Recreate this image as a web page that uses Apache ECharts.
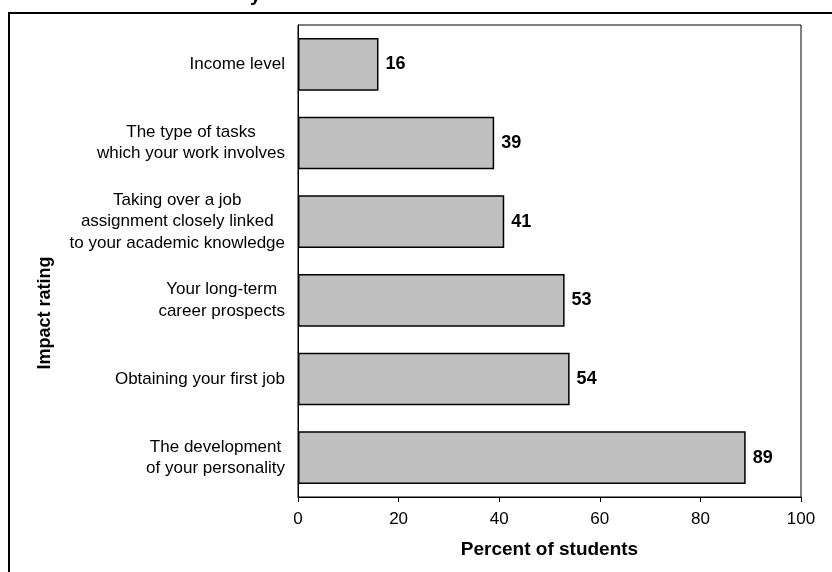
<!DOCTYPE html>
<html>
<head>
<meta charset="utf-8">
<style>
html,body{margin:0;padding:0;background:#fff;}
#chart{width:832px;height:572px;}
</style>
<script src="https://cdn.jsdelivr.net/npm/echarts@6/dist/echarts.min.js"></script>
</head>
<body>
<div id="chart"></div>
<script>
const categories = [
  "Income level",
  "The type of tasks\nwhich your work involves",
  "Taking over a job\nassignment closely linked\nto your academic knowledge",
  "Your long-term\ncareer prospects",
  "Obtaining your first job",
  "The development\nof your personality"
];
const values = [16, 39, 41, 53, 54, 89];
const xTicks = { min: 0, max: 100, interval: 20 };
const xAxisTitle = "Percent of students";
const yAxisTitle = "Impact rating";

const FONT = "'Liberation Sans', Arial, sans-serif";
const chart = echarts.init(document.getElementById('chart'), null, { renderer: 'canvas' });
chart.setOption({
  backgroundColor: '#fff',
  animation: false,
  textStyle: { fontFamily: FONT },
  graphic: [
    { type: 'rect', shape: { x: 9, y: 13, width: 900, height: 700 },
      style: { fill: 'none', stroke: '#000', lineWidth: 2 } },
    { type: 'text', x: 250, y: 5,
      style: { text: 'y', font: 'bold 20px ' + FONT, fill: '#000', verticalAlign: 'bottom' } }
  ],
  grid: { left: 298, top: 25, right: 31, bottom: 75, show: true, borderColor: '#000', borderWidth: 1, containLabel: false },
  xAxis: {
    type: 'value', min: xTicks.min, max: xTicks.max, interval: xTicks.interval,
    name: xAxisTitle, nameLocation: 'middle', nameGap: 43,
    nameTextStyle: { fontFamily: FONT, fontSize: 19, fontWeight: 'bold', color: '#000' },
    axisLine: { show: true, lineStyle: { color: '#000', width: 1 } },
    axisTick: { show: true, length: 5, lineStyle: { color: '#000' } },
    axisLabel: { fontFamily: FONT, fontSize: 17, color: '#000', margin: 14 },
    splitLine: { show: false }
  },
  yAxis: {
    type: 'category', data: categories, inverse: true,
    name: yAxisTitle, nameLocation: 'middle', nameGap: 244, nameRotate: 90,
    nameTextStyle: { fontFamily: FONT, fontSize: 18, fontWeight: 'bold', color: '#000', padding: [0, 104, 0, 0] },
    axisLine: { show: true, lineStyle: { color: '#000', width: 1 } },
    axisTick: { show: false },
    axisLabel: {
      margin: 13, color: '#000', fontFamily: FONT, fontSize: 17, lineHeight: 21.5,
      formatter: v => v.split('\n').map(l => '{c|' + l + '}').join('\n'),
      rich: { c: { align: 'center', fontFamily: FONT, fontSize: 17, lineHeight: 21.5, color: '#000' } }
    }
  },
  series: [{
    type: 'bar', data: values, barCategoryGap: '33%',
    itemStyle: { color: '#c0c0c0', borderColor: '#000', borderWidth: 1.5 },
    label: { show: true, position: 'right', distance: 7, fontFamily: FONT, fontSize: 18, fontWeight: 'bold', color: '#000' }
  }]
});
</script>
</body>
</html>
